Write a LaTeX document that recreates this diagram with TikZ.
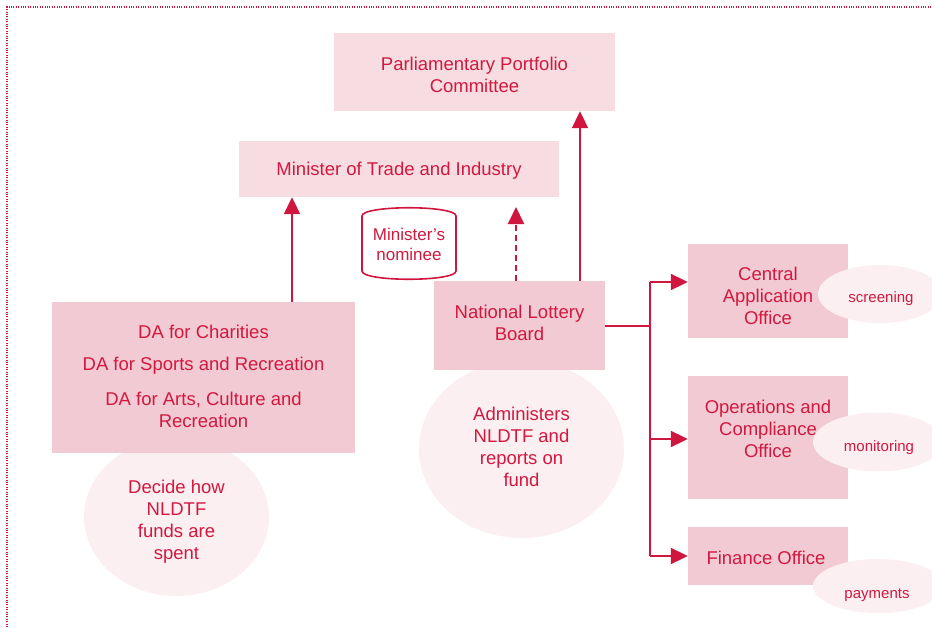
\documentclass[tikz,border=0pt]{standalone}
\usepackage{fontspec}
\setmainfont{Liberation Sans}
\usetikzlibrary{arrows.meta,shapes.geometric}
\definecolor{tred}{HTML}{D2183F}
\definecolor{lred}{HTML}{D0163F}
\definecolor{boxA}{HTML}{F2CAD3}
\definecolor{boxB}{HTML}{F7DDE2}
\definecolor{ellC}{HTML}{FBEFF1}
\tikzset{
  boxdark/.style={rectangle, fill=boxA, draw=none, inner sep=0pt},
  boxlight/.style={rectangle, fill=boxB, draw=none, inner sep=0pt},
  bubble/.style={ellipse, fill=ellC, draw=none, inner sep=0pt},
  txt/.style={text=tred, align=center, font=\fontsize{18.5}{22}\selectfont, inner sep=0pt},
  smalltxt/.style={text=tred, align=center, font=\fontsize{15}{18}\selectfont, inner sep=0pt},
  conn/.style={draw=lred, line width=2pt},
  arr/.style={conn, -{Triangle[length=17pt,width=16pt]}},
}
\begin{document}
\begin{tikzpicture}[x=1pt,y=-1pt]
\useasboundingbox (0,0) rectangle (932,627);
% border
\draw[lred, line width=1.6pt, dash pattern=on 1pt off 1.4pt] (7,627) -- (7,7) -- (932,7);

% top boxes
\node[boxlight, minimum width=281pt, minimum height=78pt] (ppc) at (474.5,72) {};
\node[txt] at (474.5,75) {Parliamentary Portfolio\\Committee};
\node[boxlight, minimum width=320pt, minimum height=56pt] (mti) at (399,169) {};
\node[txt] at (399,171) {Minister of Trade and Industry};

% DA ellipse and box
\node[bubble, minimum width=185pt, minimum height=158pt] (daell) at (176.5,517) {};
\node[txt] at (176.5,522) {Decide how\\NLDTF\\funds are\\spent};
\node[boxdark, minimum width=303pt, minimum height=151pt] (da) at (203.5,377.5) {};
\node[txt] at (203.5,332) {DA for Charities};
\node[txt] at (203.5,366) {DA for Sports and Recreation};
\node[txt] at (203.5,410) {DA for Arts, Culture and\\Recreation};

% NLB ellipse and box
\node[bubble, minimum width=205pt, minimum height=178pt] (nlbell) at (521.5,449) {};
\node[txt] at (521.5,447) {Administers\\NLDTF and\\reports on\\fund};
\node[boxdark, minimum width=171pt, minimum height=89pt] (nlb) at (519.5,325.5) {};
\node[txt] at (519.5,323) {National Lottery\\Board};

% nominee
\draw[lred, line width=1.6pt, fill=white] (362,216) .. controls (362,205) and (456,205) .. (456,216) -- (456,271) .. controls (456,282) and (362,282) .. (362,271) -- cycle;
\node[text=tred, align=center, font=\fontsize{17}{20}\selectfont, inner sep=0pt] (nom) at (409,244) {Minister’s\\nominee};

% offices
\node[boxdark, minimum width=160pt, minimum height=94pt] (cao) at (768,291) {};
\node[txt] at (768,296) {Central\\Application\\Office};
\node[bubble, minimum width=124pt, minimum height=58pt] (scr) at (880,294) {};
\node[smalltxt] at (881,299) {screening};

\node[boxdark, minimum width=160pt, minimum height=123pt] (ops) at (768,437.5) {};
\node[txt] at (768,429) {Operations and\\Compliance\\Office};
\node[bubble, minimum width=130pt, minimum height=59pt] (mon) at (878,442) {};
\node[smalltxt] at (879,448) {monitoring};

\node[boxdark, minimum width=160pt, minimum height=58pt] (fin) at (768,556) {};
\node[txt] at (766,558) {Finance Office};
\node[bubble, minimum width=130pt, minimum height=54pt] (pay) at (878,586) {};
\node[smalltxt] at (877,595) {payments};

% connectors
\coordinate (dtop) at (516,207);
\draw[arr] (da.north -| 292,0) -- (mti.south -| 292,0);
\draw[arr, dashed, dash pattern=on 6pt off 4pt] (nlb.north -| dtop) -- (dtop);
\draw[arr] (nlb.north -| 580,0) -- (ppc.south -| 580,0);

\coordinate (jn) at (650,325.5);
\coordinate (j1) at (650,282);
\coordinate (j2) at (650,439);
\coordinate (j3) at (650,556);
\draw[conn] (nlb.east) -- (jn);
\draw[conn] (j1) -- (j3);
\draw[arr] (j1) -- (cao.west |- j1);
\draw[arr] (j2) -- (ops.west |- j2);
\draw[arr] (j3) -- (fin.west |- j3);
\end{tikzpicture}
\end{document}
